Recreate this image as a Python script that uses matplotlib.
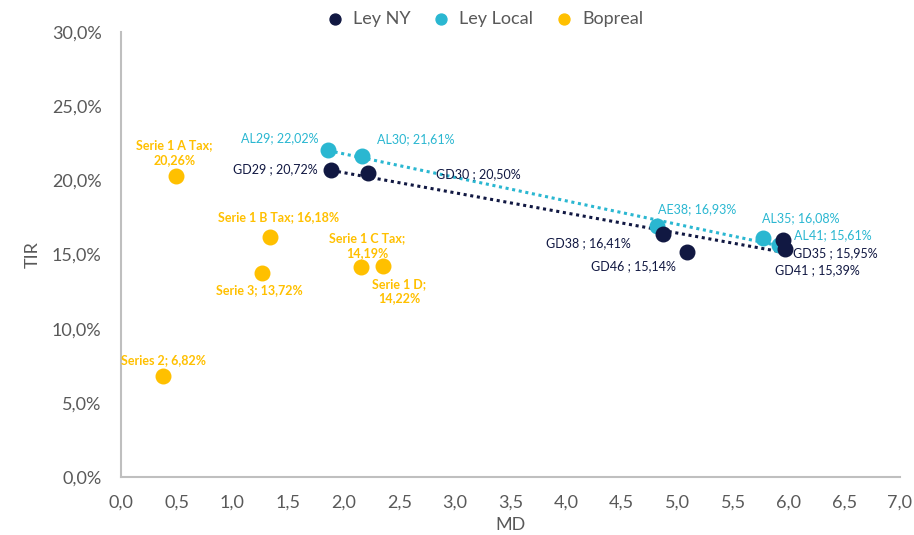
import matplotlib
matplotlib.use("Agg")
import matplotlib.pyplot as plt
import numpy as np
from matplotlib.ticker import FuncFormatter

plt.rcParams['font.family'] = ['Lato', 'DejaVu Sans']

# data
ny_names = ["GD29", "GD30", "GD38", "GD46", "GD35", "GD41"]
ny_md = [1.89, 2.22, 4.87, 5.09, 5.95, 5.97]
ny_tir = [20.72, 20.50, 16.41, 15.14, 15.95, 15.39]

loc_names = ["AL29", "AL30", "AE38", "AL35", "AL41"]
loc_md = [1.86, 2.17, 4.82, 5.77, 5.91]
loc_tir = [22.02, 21.61, 16.93, 16.08, 15.61]

bop_names = ["Serie 1 A Tax;\n", "Serie 1 B Tax; ", "Serie 3; ", "Serie 1 C Tax;\n", "Serie 1 D;\n", "Series 2; "]
bop_md = [0.49, 1.34, 1.27, 2.16, 2.35, 0.38]
bop_tir = [20.26, 16.18, 13.72, 14.19, 14.22, 6.82]

NAVY = "#111842"
CYAN = "#2AB7D1"
GOLD = "#FFC000"
GRAY = "#595959"

def pct(v):
    return f"{v:.2f}".replace(".", ",") + "%"

fig = plt.figure(figsize=(9.14, 5.35), dpi=100)
ax = fig.add_axes([121/914, 1-477/535, (900-121)/914, (477-32)/535])

# dotted linear trendlines
for xs, ys, c in [(ny_md, ny_tir, NAVY), (loc_md, loc_tir, CYAN)]:
    k, b = np.polyfit(xs, ys, 1)
    xx = np.array([min(xs), max(xs)])
    ax.plot(xx, k*xx + b, color=c, lw=2.2, ls=(0, (1, 1.2)), zorder=2)

ax.scatter(ny_md, ny_tir, s=110, color=NAVY, zorder=4, label="Ley NY")
ax.scatter(loc_md, loc_tir, s=110, color=CYAN, zorder=3, label="Ley Local")
ax.scatter(bop_md, bop_tir, s=110, color=GOLD, zorder=3, label="Bopreal")

# label offsets in pixels (dx, dy, ha)
ny_off = [(-14, 0, "right"), (68, -1, "left"), (-32, -10, "right"), (-12, -14, "right"), (10, -13, "left"), (-10, -21, "left")]
loc_off = [(-9, 12, "right"), (15, 17, "left"), (1, 17, "left"), (-1, 20, "left"), (15, 10, "left")]
bop_off = [(-1, 24, "center"), (8, 20, "center"), (-3, -17, "center"), (6, 21, "center"), (17, -25, "center")]
bop_off.append((0, 16, "center"))

for n, x, y, (dx, dy, ha) in zip(ny_names, ny_md, ny_tir, ny_off):
    ax.annotate(f"{n} ; {pct(y)}", (x, y), xytext=(dx, dy), textcoords="offset pixels",
                ha=ha, va="center", fontsize=9, color=NAVY)
for n, x, y, (dx, dy, ha) in zip(loc_names, loc_md, loc_tir, loc_off):
    ax.annotate(f"{n}; {pct(y)}", (x, y), xytext=(dx, dy), textcoords="offset pixels",
                ha=ha, va="center", fontsize=9, color=CYAN)
for n, x, y, (dx, dy, ha) in zip(bop_names, bop_md, bop_tir, bop_off):
    ax.annotate(f"{n}{pct(y)}", (x, y), xytext=(dx, dy), textcoords="offset pixels",
                ha=ha, va="center", multialignment="center", fontsize=9,
                color=GOLD, fontweight="bold", linespacing=1.25)

ax.set_xlim(0, 7)
ax.set_ylim(0, 30)
ax.set_xticks(np.arange(0, 7.01, 0.5))
ax.set_yticks(np.arange(0, 30.01, 5))
ax.xaxis.set_major_formatter(FuncFormatter(lambda v, p: f"{v:.1f}".replace(".", ",")))
ax.yaxis.set_major_formatter(FuncFormatter(lambda v, p: f"{v:.1f}".replace(".", ",") + "%"))
ax.tick_params(length=0, labelsize=13, colors=GRAY)
ax.tick_params(axis="y", pad=14)
ax.tick_params(axis="x", pad=13)
for s in ["top", "right"]:
    ax.spines[s].set_visible(False)
for s in ["left", "bottom"]:
    ax.spines[s].set_color("#BFBFBF")
    ax.spines[s].set_linewidth(1.5)
ax.set_xlabel("MD", fontsize=13, color=GRAY, labelpad=4)
ax.set_ylabel("TIR", fontsize=13, color=GRAY, labelpad=8)

leg = fig.legend(loc="center", bbox_to_anchor=(0.525, 1-19/535), ncol=3, frameon=False,
                 fontsize=13, handletextpad=0.0, columnspacing=0.7, markerscale=0.75)
for t in leg.get_texts():
    t.set_color(GRAY)

fig.savefig("out.png", dpi=100)
